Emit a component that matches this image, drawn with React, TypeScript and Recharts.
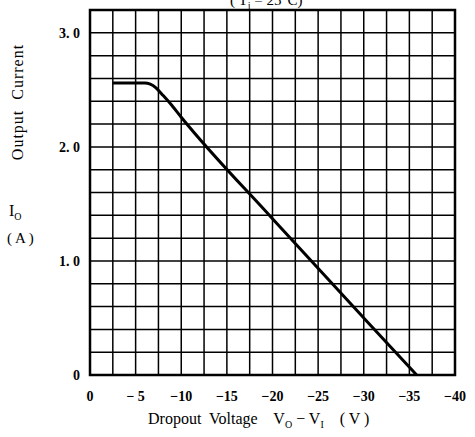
import React from 'react';
import { LineChart, Line, XAxis, YAxis, CartesianGrid, ReferenceArea } from 'recharts';

// dropout voltage (V) vs output current (A)
const voltage = [-2.5, -6, -6.6, -7.2, -7.9, -8.8, -10, -20, -30, -35.8];
const current = [2.56, 2.56, 2.55, 2.52, 2.46, 2.38, 2.26, 1.37, 0.5, 0];

const xTicks = [0, -2.5, -5, -7.5, -10, -12.5, -15, -17.5, -20, -22.5, -25, -27.5, -30, -32.5, -35, -37.5, -40];
const yTicks = [0, 0.2, 0.4, 0.6, 0.8, 1, 1.2, 1.4, 1.6, 1.8, 2, 2.2, 2.4, 2.6, 2.8, 3, 3.2];
const xLabels: Record<string, string> = {
  '0': '0', '-5': '− 5', '-10': '−10', '-15': '−15', '-20': '−20',
  '-25': '−25', '-30': '−30', '-35': '−35', '-40': '−40',
};
const yLabels: Record<string, string> = { '0': '0', '1': '1. 0', '2': '2. 0', '3': '3. 0' };

const serif = '"Liberation Serif", "DejaVu Serif", serif';

const App: React.FC = () => {
  const data = voltage.map((v, i) => ({ v, i: current[i] }));

  return (
    <div style={{ position: 'absolute', left: 0, top: 0, width: 475, height: 437, background: '#fff', fontFamily: serif }}>
      <LineChart width={475} height={437} data={data} margin={{ top: 10, right: 20, bottom: 32, left: 40 }}>
        <CartesianGrid stroke="#000" strokeWidth={1.5} />
        <XAxis
          dataKey="v"
          type="number"
          domain={[-40, 0]}
          reversed
          ticks={xTicks}
          interval={0}
          tickLine={false}
          axisLine={false}
          height={30}
          tickMargin={10}
          tick={{ fill: '#000', fontSize: 14, fontWeight: 'bold', fontFamily: serif }}
          tickFormatter={(t) => xLabels[String(t)] ?? ''}
        />
        <YAxis
          type="number"
          domain={[0, 3.2]}
          ticks={yTicks}
          interval={0}
          tickLine={false}
          axisLine={false}
          width={50}
          tickMargin={4}
          tick={{ fill: '#000', fontSize: 14, fontWeight: 'bold', fontFamily: serif }}
          tickFormatter={(t) => yLabels[String(t)] ?? ''}
        />
        <ReferenceArea x1={0} x2={-40} y1={0} y2={3.2} fill="none" stroke="#000" strokeWidth={2.5} />
        <Line type="monotone" dataKey="i" stroke="#000" strokeWidth={3} dot={false} isAnimationActive={false} />
      </LineChart>

      <div style={{ position: 'absolute', left: 230, top: -8, fontSize: 15, whiteSpace: 'nowrap' }}>
        ( T<sub style={{ fontSize: 10 }}>j</sub> = 25°C)
      </div>
      <div
        style={{
          position: 'absolute', left: 18, top: 102, transform: 'translate(-50%, -50%) rotate(-90deg)',
          fontSize: 16, letterSpacing: 1, whiteSpace: 'nowrap',
        }}
      >
        Output&nbsp; Current
      </div>
      <div style={{ position: 'absolute', left: 9, top: 202, fontSize: 16 }}>
        I<sub style={{ fontSize: 10 }}>O</sub>
      </div>
      <div style={{ position: 'absolute', left: 7, top: 230, fontSize: 15 }}>( A )</div>
      <div style={{ position: 'absolute', left: 148, top: 410, fontSize: 16, whiteSpace: 'nowrap' }}>
        Dropout&nbsp; Voltage&nbsp;&nbsp;&nbsp; V<sub style={{ fontSize: 10 }}>O</sub> − V<sub style={{ fontSize: 10 }}>I</sub>&nbsp;&nbsp;&nbsp; ( V )
      </div>
    </div>
  );
};

export default App;
